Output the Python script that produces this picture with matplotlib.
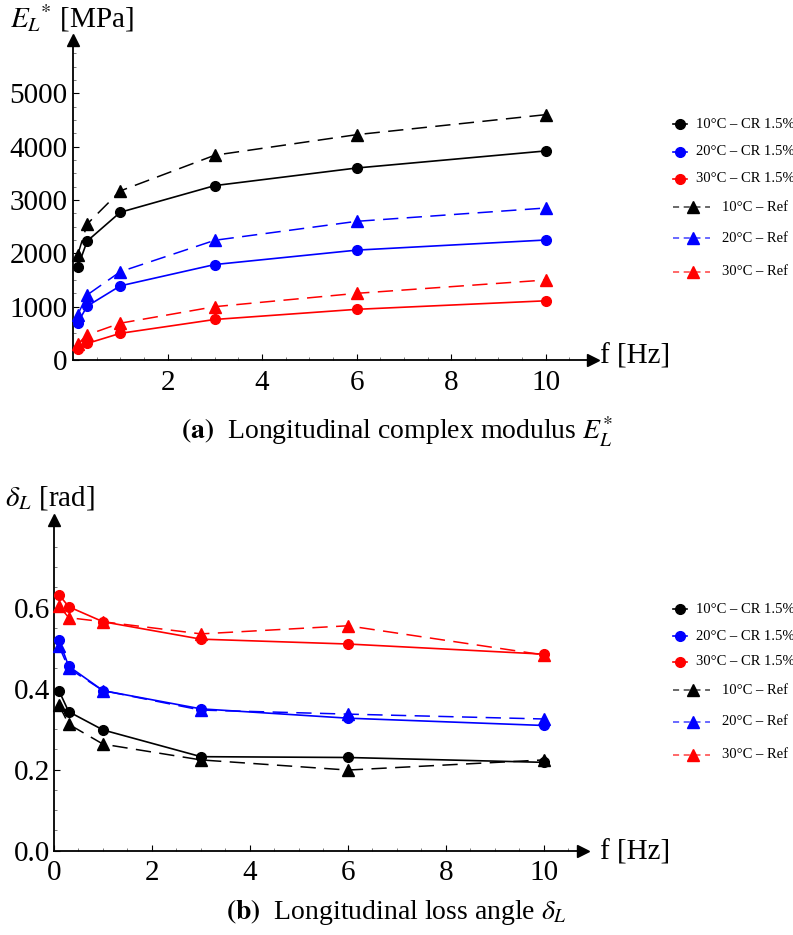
import matplotlib
matplotlib.use("Agg")
import matplotlib.pyplot as plt
from matplotlib.lines import Line2D
from matplotlib.ticker import MultipleLocator

plt.rcParams["font.family"] = ["Liberation Serif", "DejaVu Serif"]
plt.rcParams["mathtext.fontset"] = "stix"

# Test frequencies [Hz]
freq = [0.1, 0.3, 1, 3, 6, 10]

# Longitudinal complex modulus E_L* [MPa]
E_cr_10 = [1740, 2230, 2770, 3270, 3600, 3920]
E_cr_20 = [700, 1010, 1390, 1790, 2060, 2250]
E_cr_30 = [200, 310, 500, 760, 950, 1110]
E_ref_10 = [1970, 2550, 3170, 3840, 4225, 4600]
E_ref_20 = [850, 1220, 1655, 2245, 2600, 2850]
E_ref_30 = [300, 470, 690, 1000, 1250, 1500]

# Longitudinal loss angle delta_L [rad]
d_cr_10 = [0.395, 0.343, 0.298, 0.232, 0.230, 0.218]
d_cr_20 = [0.520, 0.455, 0.395, 0.350, 0.327, 0.309]
d_cr_30 = [0.632, 0.602, 0.565, 0.522, 0.510, 0.485]
d_ref_10 = [0.360, 0.312, 0.263, 0.224, 0.199, 0.224]
d_ref_20 = [0.505, 0.450, 0.395, 0.347, 0.337, 0.325]
d_ref_30 = [0.605, 0.575, 0.565, 0.535, 0.555, 0.483]

series_labels = ["10°C – CR 1.5%", "20°C – CR 1.5%", "30°C – CR 1.5%",
                 "10°C – Ref", "20°C – Ref", "30°C – Ref"]
colors = ["black", "blue", "red"]

W, H = 793, 935
fig = plt.figure(figsize=(W / 100, H / 100), dpi=100)

TICK_FS = 21
LAB_FS = 21
CAP_FS = 20


def style_axes(ax, xmax, ymax):
    ax.set_xlim(0, xmax)
    ax.set_ylim(0, ymax)
    for s in ("top", "right"):
        ax.spines[s].set_visible(False)
    for s in ("left", "bottom"):
        ax.spines[s].set_linewidth(1.3)
    ax.tick_params(which="both", direction="in", labelsize=TICK_FS)
    ax.tick_params(which="major", length=4, width=0.8)
    ax.tick_params(which="minor", length=2, width=0.6, color="0.4")
    ax.tick_params(axis="x", pad=7)
    ax.tick_params(axis="y", pad=3)
    ax.xaxis.set_minor_locator(MultipleLocator(0.5))
    # arrow heads at the ends of both axes
    ax.plot(1, 0, marker=">", color="black", ms=9, transform=ax.transAxes,
            clip_on=False)
    ax.plot(0, 1, marker="^", color="black", ms=9, transform=ax.transAxes,
            clip_on=False)


def draw_series(ax, cr, ref):
    for vals, c in zip(cr, colors):
        ax.plot(freq, vals, "-", color=c, lw=1.2, marker="o", ms=7,
                clip_on=False, zorder=3)
    for vals, c in zip(ref, colors):
        ax.plot(freq, vals, color=c, lw=1.1, dashes=(10, 5.5), marker="^",
                ms=8, clip_on=False, zorder=3)


def draw_legend(rows_px):
    x_line0, x_line1 = 672.7, 686.7
    for i, (lab, y) in enumerate(zip(series_labels, rows_px)):
        yf = 1 - y / H
        c = colors[i % 3]
        if i < 3:
            fig.add_artist(Line2D([x_line0 / W, x_line1 / W], [yf, yf],
                                  color=c, lw=1.2))
            fig.add_artist(Line2D([679.5 / W], [yf], marker="o", ms=7,
                                  color=c, lw=0))
            fig.text(695.5 / W, yf, lab, fontsize=10.5, va="center",
                     ha="left")
        else:
            fig.add_artist(Line2D([672.7 / W, 710 / W], [yf, yf], color=c,
                                  lw=1.1, dashes=(4, 3), alpha=0.75))
            fig.add_artist(Line2D([693.3 / W], [yf], marker="^", ms=8,
                                  color=c, lw=0))
            fig.text(722.5 / W, yf, lab, fontsize=10.5, va="center",
                     ha="left")


# (a) complex modulus
ax1 = fig.add_axes([73 / W, 1 - 360 / H, 520 / W, 320 / H])
style_axes(ax1, 11.0, 6000)
ax1.set_xticks([2, 4, 6, 8, 10])
ax1.set_yticks([0, 1000, 2000, 3000, 4000, 5000])
ax1.yaxis.set_minor_locator(MultipleLocator(250))
ax1.tick_params(axis="y", pad=4)
draw_series(ax1, [E_cr_10, E_cr_20, E_cr_30], [E_ref_10, E_ref_20, E_ref_30])
fig.text(10 / W, 1 - 18 / H, r"$E_L{}^{*}$ [MPa]", fontsize=LAB_FS,
         va="center", ha="left")
fig.text(600 / W, 1 - 357 / H, "f [Hz]", fontsize=LAB_FS, va="center",
         ha="left")
draw_legend([124, 151.7, 179, 207.3, 238.3, 271.7])
fig.text(0.5, 1 - 432 / H,
         r"$\mathbf{(a)}$  Longitudinal complex modulus $E_L^{*}$",
         fontsize=CAP_FS, ha="center", va="center")

# (b) loss angle
ax2 = fig.add_axes([54 / W, 1 - 850.7 / H, 529 / W, 330.7 / H])
style_axes(ax2, 10.8, 0.816)
ax2.set_xticks([0, 2, 4, 6, 8, 10])
ax2.set_yticks([0.0, 0.2, 0.4, 0.6])
ax2.set_yticklabels(["0.0", "0.2", "0.4", "0.6"])
ax2.yaxis.set_minor_locator(MultipleLocator(0.05))
draw_series(ax2, [d_cr_10, d_cr_20, d_cr_30], [d_ref_10, d_ref_20, d_ref_30])
fig.text(5 / W, 1 - 498 / H, r"$\delta_L$ [rad]", fontsize=LAB_FS,
         va="center", ha="left")
fig.text(600 / W, 1 - 853 / H, "f [Hz]", fontsize=LAB_FS, va="center",
         ha="left")
draw_legend([609.3, 636, 661.7, 690, 721.7, 755])
fig.text(0.5, 1 - 912 / H,
         r"$\mathbf{(b)}$  Longitudinal loss angle $\delta_L$",
         fontsize=CAP_FS, ha="center", va="center")

fig.savefig("out.png", dpi=100)
